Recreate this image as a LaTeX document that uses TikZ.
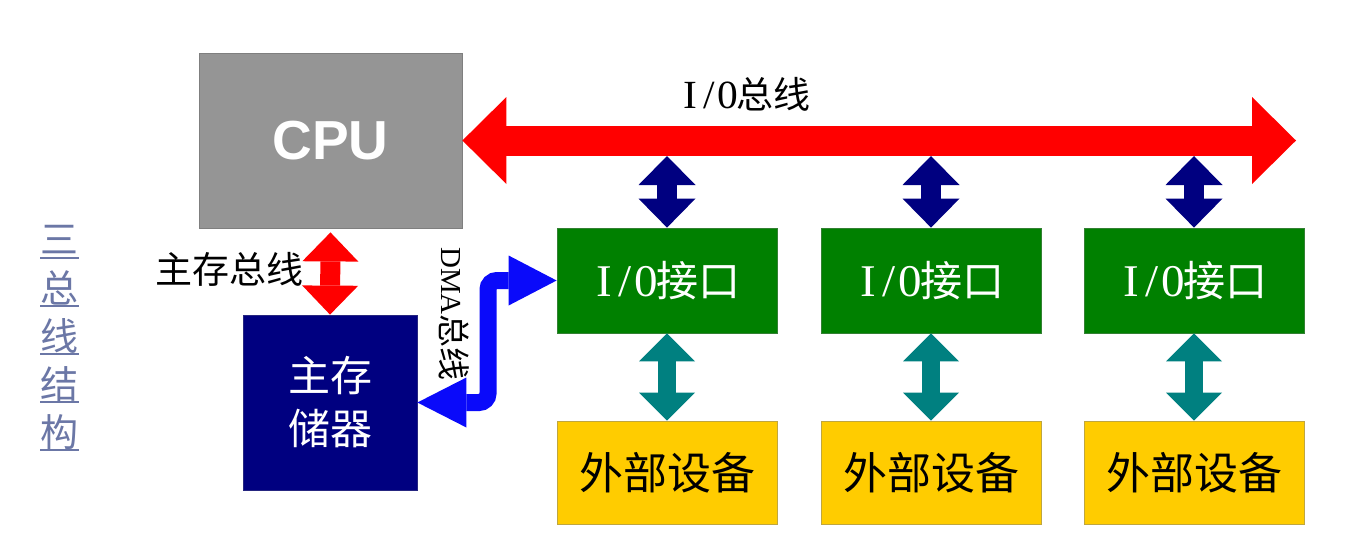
\documentclass[tikz,border=0pt]{standalone}
\usepackage{fontspec}
\setmainfont{Liberation Serif}
\setsansfont{Liberation Sans}
\newfontfamily\cjk{Noto Sans CJK SC}
\usetikzlibrary{arrows.meta,calc}
\newcommand{\hw}[1]{\makebox[0.5em]{\scalebox{1.12}[1.08]{#1}}}
\definecolor{cpugray}{HTML}{959595}
\definecolor{cpuedge}{HTML}{7F7F7F}
\definecolor{memnavy}{HTML}{000080}
\definecolor{iogreen}{HTML}{008000}
\definecolor{devyellow}{HTML}{FFCC00}
\definecolor{busred}{HTML}{FF0000}
\definecolor{linkteal}{HTML}{008080}
\definecolor{dmablue}{HTML}{0A0AFA}
\definecolor{titlecol}{HTML}{6B77A6}
\tikzset{
  box/.style={rectangle, inner sep=0pt, line width=0.8pt},
  cpubox/.style={box, fill=cpugray, draw=cpuedge, minimum width=263pt, minimum height=175pt},
  membox/.style={box, fill=memnavy, draw=memnavy!70!gray, minimum width=174pt, minimum height=175pt},
  iobox/.style={box, fill=iogreen, draw=iogreen!60!gray, minimum width=220pt, minimum height=105pt},
  devbox/.style={box, fill=devyellow, draw=devyellow!50!gray, minimum width=220pt, minimum height=103pt},
  iobus/.style={draw=busred, line width=30pt, {Triangle[width=87pt,length=44pt,line width=0pt]}-{Triangle[width=87pt,length=44pt,line width=0pt]}},
  membus/.style={draw=busred, line width=20pt, {Triangle[width=56pt,length=29pt,line width=0pt]}-{Triangle[width=56pt,length=29pt,line width=0pt]}},
  navylink/.style={draw=memnavy, line width=20pt, {Triangle[width=57pt,length=29pt,line width=0pt]}-{Triangle[width=57pt,length=29pt,line width=0pt]}},
  teallink/.style={draw=linkteal, line width=18pt, {Triangle[width=56pt,length=28pt,line width=0pt]}-{Triangle[width=56pt,length=28pt,line width=0pt]}},
  dmabus/.style={draw=dmablue, line width=17pt, rounded corners=9pt, {Triangle[width=50pt,length=49pt,line width=0pt]}-{Triangle[width=50pt,length=48pt,line width=0pt]}},
  titlechar/.style={inner sep=0pt, text=titlecol, font=\cjk\fontsize{38}{38}\selectfont},
  uline/.style={draw=titlecol, line width=1.6pt}
}
\begin{document}
\begin{tikzpicture}[x=1pt,y=-1pt]
\useasboundingbox[fill=white] (0,0) rectangle (1365,558);

% boxes
\node[cpubox] (cpu) at (330.5,140.5) {\sffamily\bfseries\fontsize{55}{55}\selectfont\textcolor{white}{CPU}};
\node[membox, align=center, text=white, font=\cjk\fontsize{42}{53}\selectfont] (mem) at (330,402.5) {主存\\储器};
\node[iobox, text=white, font=\fontsize{42}{42}\selectfont] (io1) at (667,280.5) {\hw{I}\hw{/}\hw{0}{\cjk 接口}};
\node[iobox, text=white, font=\fontsize{42}{42}\selectfont] (io2) at (931,280.5) {\hw{I}\hw{/}\hw{0}{\cjk 接口}};
\node[iobox, text=white, font=\fontsize{42}{42}\selectfont] (io3) at (1194,280.5) {\hw{I}\hw{/}\hw{0}{\cjk 接口}};
\node[devbox, font=\cjk\fontsize{44}{44}\selectfont] (dev1) at (667,472.5) {外部设备};
\node[devbox, font=\cjk\fontsize{44}{44}\selectfont] (dev2) at (931,472.5) {外部设备};
\node[devbox, font=\cjk\fontsize{44}{44}\selectfont] (dev3) at (1194,472.5) {外部设备};

% bus coordinates
\coordinate (busend) at (1296,140.5);
\coordinate (busbot) at (0,156);
\coordinate (dmacol) at (488,0);

% I/O bus
\draw[iobus] (cpu.east) -- (busend);
% memory bus
\draw[membus] ($(cpu.south)+(0,4)$) -- (mem.north);
% links bus -> I/O interfaces
\draw[navylink] (io1.north |- busbot) -- (io1.north);
\draw[navylink] (io2.north |- busbot) -- (io2.north);
\draw[navylink] (io3.north |- busbot) -- (io3.north);
% links I/O -> devices
\draw[teallink] (io1.south) -- (dev1.north);
\draw[teallink] (io2.south) -- (dev2.north);
\draw[teallink] (io3.south) -- (dev3.north);
% DMA bus
\draw[dmabus] (mem.east) -- (dmacol |- mem.east) -- (dmacol |- io1.west) -- (io1.west);

% labels
\node[inner sep=0pt, font=\fontsize{37}{37}\selectfont] (iobuslbl) at (746,94) {\hw{I}\hw{/}\hw{0}{\cjk 总线}};
\node[inner sep=0pt, font=\cjk\fontsize{37}{37}\selectfont] (membuslbl) at (229,269) {主存总线};
\node[inner sep=0pt, rotate=-90, font=\fontsize{29}{29}\selectfont] (dmalbl) at (454,314) {DMA{\cjk\fontsize{33}{33}\selectfont 总线}};

% vertical title
\node[titlechar] (t1) at (59.5,240) {三};
\node[titlechar] (t2) at (59.5,288) {总};
\node[titlechar] (t3) at (59.5,336) {线};
\node[titlechar] (t4) at (59.5,384) {结};
\node[titlechar] (t5) at (59.5,432) {构};
\foreach \t in {t1,t2,t3,t4,t5}{
  \draw[uline] ($(\t.center)+(-19.5,18)$) -- ++(39,0);
}
\end{tikzpicture}
\end{document}
